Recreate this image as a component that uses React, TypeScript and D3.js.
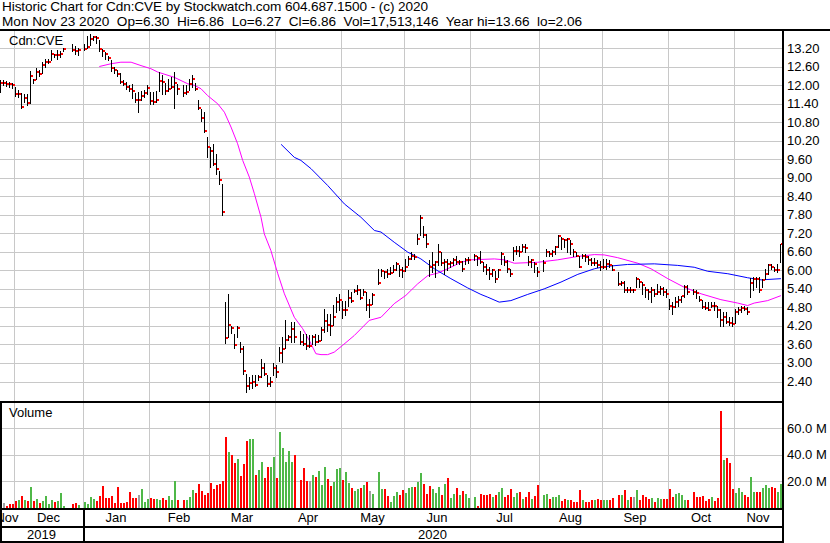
import React from 'react';
import * as d3 from 'd3';

// ---- DATA (weekday slots 2019-11-25 .. 2020-11-23; null = exchange holiday) ----
const startDate = '2019-11-25';

const closes: (number | null)[] = [
  // Nov 2019
  12.07, 12.07, 12.05, 12.02, 12.0,
  // Dec
  11.7, 11.72, 11.3, 11.58, 11.41, 12.28, 12.15, 12.42, 12.37, 12.66, 12.74, 12.76, 13.01, 12.96, 12.97, 12.99, 13.17, null, null, 13.15, 13.1, 13.12,
  // Jan 2020
  null, 13.17, 13.23, 13.5, 13.55, 13.53, 13.17, 13.1, 13.01, 12.88, 12.56, 12.49, 12.37, 12.1, 12.04, 11.93, 11.88, 11.82, 11.5, 11.5, 11.64, 11.75, 11.9,
  // Feb
  11.48, 11.45, 11.53, 12.13, 12.1, 11.82, 11.88, 11.93, 12.06, 11.88, null, 11.75, 11.77, 12.02, 12.18, 11.88, 11.25, 10.93, 10.51, 9.99,
  // Mar
  9.85, 9.43, 9.29, 8.93, 7.88, 3.8, 4.24, 4.13, 3.59, 4.13, 3.44, 2.73, 2.24, 2.36, 2.38, 2.3, 2.54, 2.83, 2.65, 2.33, 2.38, 2.84,
  // Apr
  2.7, 3.32, 3.44, 3.76, 3.83, 4.11, 3.83, null, 3.67, 3.6, 3.55, 3.55, 3.83, 3.67, 3.71, 4.07, 4.35, 4.24, 4.21, 4.48, 4.97, 5.05,
  // May
  4.7, 4.72, 5.1, 5.0, 5.32, 5.37, 5.1, 5.29, 4.89, 4.89, 5.21, null, 5.6, 5.97, 5.94, 5.89, 5.9, 6.02, 6.21, 6.02, 5.97,
  // Jun
  6.1, 6.37, 6.48, 6.42, 7.02, 7.7, 7.16, 6.86, 6.12, 6.16, 6.26, 6.59, 6.23, 6.26, 6.21, 6.23, 6.32, 6.26, 6.28, 6.05, 6.32, 6.34,
  // Jul
  null, 6.45, 6.41, 6.26, 6.1, 6.02, 5.89, 6.02, 5.73, 6.0, 6.54, 6.26, 6.05, 5.89, 6.62, 6.64, 6.59, 6.75, 6.73, 6.26, 6.34, 6.21, 5.94,
  // Aug
  null, 6.23, 6.59, 6.54, 6.59, 6.75, 7.11, 7.0, 6.97, 7.0, 6.85, 6.59, 6.48, 6.12, 6.45, 6.44, 6.32, 6.23, 6.24, 6.16, 6.1,
  // Sep
  6.12, 6.2, 6.16, 6.02, null, 5.56, 5.58, 5.35, 5.37, 5.35, 5.35, 5.73, 5.62, 5.51, 5.35, 5.29, 5.35, 5.24, 5.29, 5.4, 5.3, 5.24,
  // Oct
  4.83, 4.81, 4.97, 5.05, 5.16, 5.45, 5.31, null, 5.29, 5.26, 5.05, 4.81, 4.79, 4.72, 4.86, 4.83, 4.72, 4.4, 4.5, 4.32, 4.28, 4.25,
  // Nov
  4.64, 4.7, 4.79, 4.75, 4.64, 5.58, 5.73, 5.72, 5.35, 5.7, 5.89, 6.16, 6.1, 6.0, 6.02, 6.86,
];

const highs: (number | null)[] = [
  12.17, 12.15, 12.12, 12.1, 12.08,
  11.93, 11.85, 11.75, 11.7, 11.7, 12.45, 12.2, 12.55, 12.5, 12.75, 12.85, 12.85, 13.15, 13.0, 13.15, 13.1, 13.2, null, null, 13.32, 13.25, 13.2,
  null, 13.33, 13.6, 13.64, 13.6, 13.58, 13.45, 13.18, 13.08, 12.95, 12.8, 12.6, 12.5, 12.4, 12.15, 12.1, 12.0, 12.05, 11.75, 11.77, 11.8, 11.85, 12.0,
  11.77, 11.77, 11.82, 12.42, 12.34, 12.06, 12.2, 12.25, 12.42, 12.04, null, 12.0, 11.99, 12.2, 12.34, 12.06, 11.52, 11.23, 11.12, 10.33,
  9.99, 10.1, 9.77, 9.23, 8.8, 4.97, 5.24, 4.21, 3.93, 4.21, 3.68, 3.55, 2.65, 2.54, 2.6, 2.6, 2.6, 3.14, 2.99, 2.6, 2.55, 2.99,
  2.95, 3.51, 3.84, 4.38, 3.9, 4.32, 4.32, null, 4.05, 3.94, 3.94, 3.89, 3.89, 3.94, 3.89, 4.16, 4.75, 4.59, 4.59, 4.89, 5.13, 5.24,
  5.02, 5.02, 5.35, 5.29, 5.4, 5.51, 5.4, 5.4, 5.29, 5.08, 5.25, null, 6.05, 6.05, 5.99, 6.05, 6.1, 6.16, 6.26, 6.16, 6.1,
  6.37, 6.48, 6.59, 6.54, 7.18, 7.78, 7.45, 7.18, 6.32, 6.59, 6.3, 6.86, 6.59, 6.37, 6.37, 6.3, 6.4, 6.48, 6.35, 6.3, 6.4, 6.42,
  null, 6.54, 6.48, 6.64, 6.26, 6.21, 6.1, 6.05, 5.99, 6.05, 6.59, 6.48, 6.32, 6.05, 6.75, 6.8, 6.8, 6.86, 6.84, 6.48, 6.37, 6.26, 6.1,
  null, 6.35, 6.7, 6.62, 6.67, 6.8, 7.13, 7.07, 7.02, 7.05, 6.97, 6.7, 6.59, 6.48, 6.54, 6.54, 6.48, 6.4, 6.4, 6.32, 6.3,
  6.37, 6.37, 6.32, 6.16, null, 5.94, 5.67, 5.67, 5.45, 5.45, 5.4, 5.78, 5.73, 5.62, 5.45, 5.4, 5.45, 5.4, 5.56, 5.5, 5.45, 5.4,
  5.08, 4.97, 5.13, 5.18, 5.18, 5.51, 5.51, null, 5.4, 5.35, 5.18, 5.05, 4.97, 4.97, 4.97, 4.97, 4.86, 4.75, 4.65, 4.65, 4.5, 4.5,
  4.75, 4.8, 4.85, 4.85, 4.8, 5.75, 5.8, 5.78, 5.78, 5.73, 6.05, 6.21, 6.21, 6.1, 6.21, 6.86,
];

const lows: (number | null)[] = [
  11.77, 12.0, 11.98, 11.95, 11.92,
  11.63, 11.6, 11.27, 11.45, 11.35, 11.42, 12.08, 12.2, 12.3, 12.4, 12.6, 12.7, 12.8, 12.9, 12.85, 12.9, 13.1, null, null, 13.1, 13.0, 12.98,
  null, 13.12, 13.2, 13.3, 13.45, 13.35, 13.1, 12.95, 12.85, 12.8, 12.45, 12.4, 12.3, 12.08, 12.0, 11.88, 11.8, 11.57, 11.45, 11.12, 11.5, 11.6, 11.7,
  11.39, 11.39, 11.45, 11.8, 11.7, 11.7, 11.82, 11.9, 11.25, 11.72, null, 11.63, 11.72, 11.85, 11.93, 11.83, 11.23, 10.85, 10.47, 9.66,
  9.36, 9.4, 9.13, 8.8, 7.78, 3.64, 3.83, 3.97, 3.47, 3.83, 3.35, 2.65, 2.06, 2.16, 2.2, 2.27, 2.45, 2.54, 2.6, 2.27, 2.27, 2.6,
  2.55, 3.08, 3.03, 3.5, 3.75, 3.67, 3.67, null, 3.6, 3.57, 3.46, 3.51, 3.62, 3.57, 3.67, 3.73, 4.0, 4.03, 3.89, 4.24, 4.65, 4.7,
  4.46, 4.55, 4.86, 4.97, 5.29, 5.24, 5.08, 5.2, 4.7, 4.48, 4.91, null, 5.56, 5.83, 5.76, 5.78, 5.88, 5.94, 6.0, 5.83, 5.78,
  5.99, 6.16, 6.37, 6.37, 6.86, 7.13, 7.07, 6.75, 5.83, 5.94, 5.78, 6.16, 6.16, 5.89, 6.0, 6.1, 6.16, 6.21, 6.2, 5.99, 6.2, 6.25,
  null, 6.32, 6.16, 6.24, 5.99, 5.89, 5.73, 5.83, 5.62, 5.78, 6.21, 6.16, 5.94, 5.83, 6.32, 6.54, 6.48, 6.64, 6.6, 6.16, 6.1, 5.94, 5.83,
  null, 5.99, 6.48, 6.48, 6.48, 6.54, 6.75, 6.7, 6.75, 6.59, 6.54, 6.48, 6.45, 6.1, 6.4, 6.3, 6.21, 6.16, 6.18, 6.1, 6.02,
  6.08, 6.05, 6.1, 6.0, null, 5.51, 5.51, 5.29, 5.29, 5.29, 5.3, 5.45, 5.45, 5.24, 5.13, 5.08, 4.97, 5.18, 5.24, 5.24, 5.2, 5.13,
  4.75, 4.59, 4.81, 4.86, 4.97, 5.13, 5.24, null, 5.24, 5.1, 5.02, 4.78, 4.75, 4.7, 4.8, 4.72, 4.5, 4.2, 4.2, 4.28, 4.22, 4.2,
  4.3, 4.6, 4.65, 4.7, 4.6, 5.15, 5.35, 5.45, 5.3, 5.45, 5.73, 5.89, 6.05, 5.99, 5.94, 6.27,
];

// volume in millions of shares
const volumes: (number | null)[] = [
  3.3, 3.3, 1.3, 2.5, 2.5,
  5.0, 5.8, 8.8, 6.0, 5.0, 15.6, 5.0, 6.5, 3.5, 5.0, 8.8, 2.8, 5.8, 4.5, 4.8, 11.0, 1.3, null, null, 2.8, 3.5, 2.0,
  null, 4.0, 2.8, 8.0, 6.3, 5.3, 8.8, 16.4, 7.3, 7.3, 8.8, 3.5, 15.4, 3.5, 3.5, 4.3, 11.8, 7.3, 7.3, 9.6, 14.1, 4.3, 6.3,
  7.3, 6.8, 6.3, 5.8, 7.3, 5.8, 8.8, 5.5, 20.0, 5.8, null, 5.5, 5.8, 8.0, 13.4, 11.3, 17.9, 12.8, 9.6, 11.3,
  18.6, 13.9, 17.0, 17.9, 20.4, 53.7, 42.0, 39.8, 34.0, 36.5, 23.9, 33.0, 50.6, 51.9, 51.9, 24.7, 28.5, 34.5, 22.7, 31.0, 31.0, 38.5,
  22.7, 57.4, 44.8, 34.8, 42.8, 34.8, 39.8, null, 20.9, 30.0, 20.4, 20.4, 24.7, 23.4, 27.7, 17.0, 31.0, 21.7, 16.4, 19.6, 29.5, 30.0,
  20.9, 27.2, 18.4, 14.9, 12.8, 14.1, 14.6, 17.1, 19.4, 12.8, 10.0, null, 27.0, 13.9, 13.9, 8.8, 3.8, 8.8, 12.1, 9.3, 13.4,
  10.8, 15.1, 15.4, 15.4, 19.6, 26.2, 17.9, 10.3, 16.4, 13.9, 11.3, 15.9, 9.6, 17.9, 22.7, 7.0, 10.3, 15.1, 9.6, 12.8, 10.3, 7.0,
  null, 8.0, 1.5, 10.3, 9.6, 9.6, 10.3, 8.0, 9.6, 12.1, 15.1, 8.0, 9.6, 14.1, 8.0, 11.3, 11.8, 6.3, 8.0, 12.1, 6.3, 8.5, 17.1,
  null, 9.6, 10.0, 6.3, 7.8, 8.3, 9.6, 5.3, 6.8, 5.8, 5.8, 3.8, 3.8, 13.4, 5.8, 3.8, 3.8, 5.8, 5.8, 6.3, 5.8,
  5.8, 5.8, 5.8, 7.3, null, 9.6, 9.6, 13.4, 5.8, 7.8, 8.3, 13.4, 5.8, 9.6, 8.3, 6.8, 7.3, 4.3, 7.3, 6.8, 6.8, 6.8,
  13.9, 8.3, 10.1, 10.8, 9.6, 5.8, 5.8, null, 11.6, 8.3, 7.8, 8.8, 5.3, 6.8, 8.3, 5.0, 7.5, 73.0, 36.0, 37.5, 34.0, 14.0,
  11.0, 15.0, 12.0, 9.6, 8.0, 23.0, 12.0, 12.0, 12.0, 15.0, 17.0, 15.0, 15.5, 15.0, 12.0, 17.5,
];

// moving averages: [slot, price]
const maShort: [number, number][] = [
  [33.1, 12.6], [37, 12.69], [40.3, 12.74], [43.7, 12.74], [47, 12.63], [50.3, 12.53], [52.6, 12.42],
  [58.1, 12.25], [62.6, 12.04], [64.8, 11.99], [67, 11.88], [69.2, 11.66], [72.6, 11.39], [74.8, 11.12],
  [77, 10.64], [79.2, 10.1], [80.9, 9.56], [83.1, 9.02], [84.8, 8.48], [87, 7.72], [88.1, 7.18], [90.3, 6.64],
  [92.6, 5.89], [94.8, 5.24], [98.1, 4.48], [100.9, 4.11], [103.1, 3.73], [105.3, 3.3], [107, 3.27],
  [109.2, 3.27], [111.4, 3.35], [114.2, 3.57], [118.1, 3.89], [123.1, 4.38], [127, 4.48], [131.4, 4.92],
  [135.3, 5.19], [139.2, 5.56], [142.6, 5.83], [145.9, 5.91], [149.2, 6.05], [153.7, 6.26], [157, 6.34],
  [164.8, 6.37], [168.1, 6.34], [171.4, 6.23], [179.2, 6.26], [185.9, 6.34], [192.6, 6.45], [198.1, 6.51],
  [201.4, 6.5], [205.9, 6.41], [212.6, 6.23], [217, 6.05], [222.6, 5.73], [228.1, 5.45], [233.7, 5.24],
  [240.3, 5.05], [245.9, 4.94], [249.2, 4.86], [251.4, 4.94], [255.9, 5.02], [260.3, 5.18],
];
const maLong: [number, number][] = [
  [93.7, 10.08], [98.1, 9.66], [100.3, 9.56], [103.7, 9.29], [109.2, 8.75], [114.8, 8.15], [120.3, 7.72],
  [124.8, 7.29], [127, 7.24], [131.4, 6.91], [135.9, 6.59], [140.3, 6.37], [144.8, 6.05], [150.3, 5.73],
  [155.9, 5.43], [160.3, 5.22], [162.6, 5.13], [166.4, 4.97], [170.3, 5.02], [175.9, 5.22], [181.4, 5.4],
  [187, 5.62], [192.6, 5.87], [198.1, 6.05], [201.4, 6.12], [209.2, 6.19], [218.1, 6.21], [225.9, 6.16],
  [231.4, 6.1], [235.9, 5.97], [242.6, 5.89], [249.2, 5.76], [253.7, 5.69], [260.3, 5.73],
];

const priceTicks = [13.2, 12.6, 12.0, 11.4, 10.8, 10.2, 9.6, 9.0, 8.4, 7.8, 7.2, 6.6, 6.0, 5.4, 4.8, 4.2, 3.6, 3.0, 2.4];
const volumeTicks = [20, 40, 60];
const monthStarts = ['2019-12-02', '2020-01-02', '2020-02-03', '2020-03-02', '2020-04-01', '2020-05-01', '2020-06-01', '2020-07-01', '2020-08-03', '2020-09-01', '2020-10-01', '2020-11-02'];
const monthLabels = ['Nov', 'Dec', 'Jan', 'Feb', 'Mar', 'Apr', 'May', 'Jun', 'Jul', 'Aug', 'Sep', 'Oct', 'Nov'];
const yearLabels = ['2019', '2020'];

const headerLine1 = 'Historic Chart for Cdn:CVE by Stockwatch.com 604.687.1500 - (c) 2020';
const headerLine2 = 'Mon Nov 23 2020  Op=6.30  Hi=6.86  Lo=6.27  Cl=6.86  Vol=17,513,146  Year hi=13.66  lo=2.06';
const symbol = 'Cdn:CVE';

// ---- helpers ----
function slotOf(s: string): number {
  const start = new Date(startDate + 'T00:00:00');
  const d = new Date(s + 'T00:00:00');
  let k = 0;
  const t = new Date(start);
  while (t < d) {
    t.setDate(t.getDate() + 1);
    const wd = t.getDay();
    if (wd !== 0 && wd !== 6) k++;
  }
  return k;
}

const W = 830;
const H = 543;
const FONT = '"Liberation Sans", Arial, sans-serif';
const RIGHT = 782;

export default function App() {
  const n = closes.length;
  const x = d3.scaleLinear().domain([0, n - 1]).range([0, 3 * (n - 1)]);
  const yP = d3.scaleLinear().domain([2.4, 13.2]).range([381.5, 48]);
  const yV = d3.scaleLinear().domain([0, 60]).range([507.5, 428.3]);

  const tickX = monthStarts.map((s) => x(slotOf(s)) - 1);
  const bounds = [0, ...tickX, RIGHT];
  const labelX = monthLabels.map((_, i) => (bounds[i] + bounds[i + 1]) / 2);
  const yearSep = tickX[1];

  const lineGen = d3
    .line<[number, number]>()
    .x((d) => x(d[0]))
    .y((d) => yP(d[1]));

  const green = '#4fb848';
  const red = '#ff0000';
  const gray = '#a0a0a0';
  const grid = '#c8c8c8';

  const volColor = (i: number) => {
    const c = closes[i] as number;
    let p: number | null = null;
    for (let j = i - 1; j >= 0; j--) {
      if (closes[j] != null) { p = closes[j]; break; }
    }
    if (p == null || c === p) return gray;
    return c > p ? green : red;
  };

  return (
    <svg width={W} height={H} style={{ position: 'absolute', left: 0, top: 0, background: '#fff' }} fontFamily={FONT}>
      <defs>
        <clipPath id="pc"><rect x={0} y={31} width={RIGHT} height={370} /></clipPath>
        <clipPath id="vc"><rect x={0} y={403} width={RIGHT} height={106} /></clipPath>
        <clipPath id="dc"><rect x={2} y={509} width={RIGHT - 2} height={32} /></clipPath>
      </defs>
      <rect x={0} y={0} width={W} height={H} fill="#fff" />

      {/* header */}
      <text x={2} y={11} fontSize={13.6} fill="#000" textLength={426} lengthAdjust="spacing">{headerLine1}</text>
      <text x={2} y={26} fontSize={13.6} fill="#000" style={{ whiteSpace: 'pre' }}>{headerLine2}</text>

      {/* grid */}
      <g shapeRendering="crispEdges">
        {priceTicks.map((t) => (
          <rect key={'pg' + t} x={0} y={Math.round(yP(t))} width={RIGHT} height={1} fill={grid} />
        ))}
        {tickX.map((tx, i) => (
          <rect key={'vg' + i} x={tx} y={31} width={1} height={370} fill={grid} />
        ))}
        {tickX.map((tx, i) => (
          <rect key={'vg2' + i} x={tx} y={403} width={1} height={106} fill={grid} />
        ))}
        {volumeTicks.map((t) => (
          <rect key={'vt' + t} x={0} y={Math.round(yV(t))} width={RIGHT} height={1} fill={grid} />
        ))}
      </g>

      {/* moving averages */}
      <g clipPath="url(#pc)">
        <path d={lineGen(maShort) || ''} fill="none" stroke="#ff00ff" strokeWidth={1} />
        <path d={lineGen(maLong) || ''} fill="none" stroke="#0000ff" strokeWidth={1} />
      </g>

      {/* OHLC bars */}
      <g clipPath="url(#pc)" shapeRendering="crispEdges">
        {closes.map((c, i) => {
          if (c == null) return null;
          const hi = highs[i] as number;
          const lo = lows[i] as number;
          const yh = Math.round(yP(hi));
          const yl = Math.round(yP(lo));
          const yc = Math.round(yP(c));
          return (
            <g key={'b' + i}>
              <rect x={x(i)} y={yh} width={1} height={Math.max(1, yl - yh + 1)} fill="#000" />
              <rect x={x(i) + 1} y={yc - 1} width={2} height={2} fill={red} />
            </g>
          );
        })}
      </g>

      {/* volume bars */}
      <g clipPath="url(#vc)" shapeRendering="crispEdges">
        {volumes.map((v, i) => {
          if (v == null) return null;
          const yt = Math.round(yV(v));
          return <rect key={'v' + i} x={x(i)} y={yt} width={2} height={Math.max(0, 508 - yt)} fill={volColor(i)} />;
        })}
      </g>

      {/* frame lines */}
      <g shapeRendering="crispEdges" fill="#000">
        <rect x={0} y={29} width={W} height={2} />
        <rect x={0} y={401} width={RIGHT} height={2} />
        <rect x={0} y={508} width={RIGHT} height={2} />
        <rect x={0} y={526} width={RIGHT} height={2} />
        <rect x={0} y={541} width={RIGHT} height={2} />
        <rect x={0} y={401} width={2} height={142} />
        <rect x={RIGHT} y={29} width={2} height={H - 29} />
        <rect x={yearSep} y={508} width={2} height={35} />
      </g>

      {/* panel labels */}
      <text x={9} y={45} fontSize={13} fill="#000">{symbol}</text>
      <text x={9} y={417} fontSize={13} fill="#000">Volume</text>

      {/* right axis labels */}
      {priceTicks.map((t) => (
        <text key={'pl' + t} x={787} y={yP(t) + 4.5} fontSize={13} fill="#000">{t.toFixed(2)}</text>
      ))}
      {volumeTicks.map((t) => (
        <text key={'vl' + t} x={787} y={yV(t) + 4.5} fontSize={13} fill="#000">{t.toFixed(1) + ' M'}</text>
      ))}

      {/* date axis */}
      <g clipPath="url(#dc)">
        {monthLabels.map((m, i) => (
          <text key={'ml' + i} x={labelX[i]} y={522} fontSize={13} textAnchor="middle" fill="#000">{m}</text>
        ))}
      </g>
      <text x={yearSep / 2} y={539} fontSize={13} textAnchor="middle" fill="#000">{yearLabels[0]}</text>
      <text x={(yearSep + RIGHT) / 2} y={539} fontSize={13} textAnchor="middle" fill="#000">{yearLabels[1]}</text>
    </svg>
  );
}
